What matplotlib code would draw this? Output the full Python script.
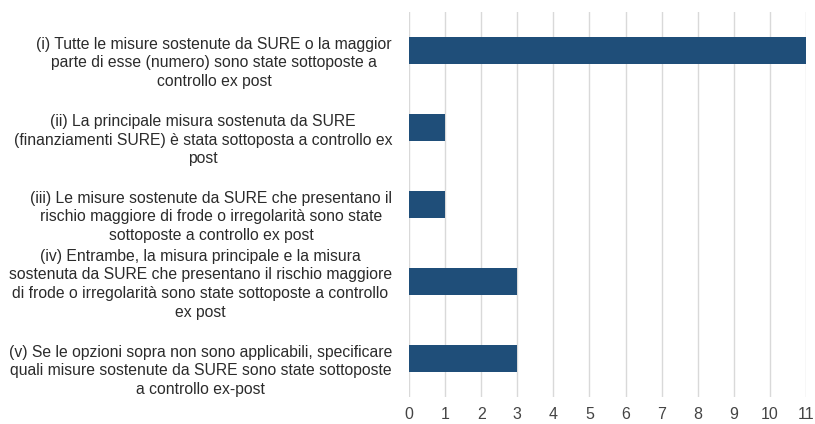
import matplotlib
matplotlib.use("Agg")
import matplotlib.pyplot as plt
import matplotlib.transforms as mtransforms

etichette = [
    "(i) Tutte le misure sostenute da SURE o la maggior\nparte di esse (numero) sono state sottoposte a\ncontrollo ex post",
    "(ii) La principale misura sostenuta da SURE\n(finanziamenti SURE) è stata sottoposta a controllo ex\npost",
    "(iii) Le misure sostenute da SURE che presentano il\nrischio maggiore di frode o irregolarità sono state\nsottoposte a controllo ex post",
    "(iv) Entrambe, la misura principale e la misura\nsostenuta da SURE che presentano il rischio maggiore\ndi frode o irregolarità sono state sottoposte a controllo\nex post",
    "(v) Se le opzioni sopra non sono applicabili, specificare\nquali misure sostenute da SURE sono state sottoposte\na controllo ex-post",
]
valori = [11, 1, 1, 3, 3]
tick_x = list(range(0, 12))

BLU = "#1f4e79"
GRIGIO = "#d9d9d9"
TESTO = "#2b2b2b"

plt.rcParams["font.family"] = ["Liberation Sans", "DejaVu Sans"]

fig = plt.figure(figsize=(8.15, 4.24), dpi=100)
ax = fig.add_axes([409 / 815, 1 - 397 / 424, 397 / 815, 385 / 424])

pos = list(range(len(valori)))
ax.barh(pos, valori, height=0.35, color=BLU, zorder=3)
ax.set_xlim(0, 11)
ax.set_ylim(len(valori) - 0.5, -0.5)
ax.set_xticks(tick_x)
ax.set_xticklabels([str(t) for t in tick_x], color="#444444", fontsize=11.5)
ax.tick_params(axis="x", length=0, pad=7)
ax.set_yticks([])
ax.grid(axis="x", color=GRIGIO, linewidth=1, zorder=0)
for s in ax.spines.values():
    s.set_visible(False)

# le etichette nell'originale sono spostate un po' in basso
for i, testo in enumerate(etichette):
    n_righe = testo.count("\n") + 1
    spost = -9 if n_righe == 3 else -2
    tr = ax.get_yaxis_transform() + mtransforms.ScaledTranslation(-17 / 100, spost / 72, fig.dpi_scale_trans)
    ax.text(0, i, testo, transform=tr, ha="right", va="center",
            multialignment="center", fontsize=11.3, color=TESTO, linespacing=1.32)

fig.savefig("out.png", dpi=100)
